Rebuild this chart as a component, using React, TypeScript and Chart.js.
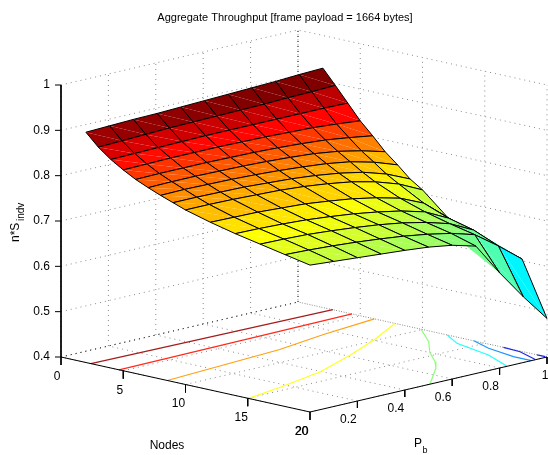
import React, { useEffect, useRef } from "react";
import { Chart, registerables } from "chart.js";

Chart.register(...registerables);

const nodesGrid = [2, 3, 4, 5, 6, 7, 8, 9, 10, 12, 14, 16, 18, 20];
const pbGrid = [0, 0.1, 0.2, 0.3, 0.4, 0.5, 0.6, 0.7, 0.8, 0.9, 1];

const throughput = [
  [0.908, 0.91, 0.912, 0.913, 0.915, 0.917, 0.919, 0.921, 0.923, 0.926, 0.928],
  [0.881, 0.883, 0.885, 0.887, 0.888, 0.889, 0.89, 0.891, 0.893, 0.894, 0.896],
  [0.86, 0.861, 0.862, 0.863, 0.864, 0.864, 0.864, 0.864, 0.864, 0.864, 0.863],
  [0.843, 0.844, 0.845, 0.845, 0.845, 0.844, 0.843, 0.841, 0.839, 0.835, 0.83],
  [0.828, 0.829, 0.829, 0.829, 0.828, 0.827, 0.825, 0.822, 0.818, 0.811, 0.803],
  [0.816, 0.817, 0.817, 0.816, 0.815, 0.813, 0.81, 0.806, 0.799, 0.788, 0.774],
  [0.805, 0.806, 0.805, 0.804, 0.802, 0.799, 0.795, 0.79, 0.782, 0.769, 0.751],
  [0.795, 0.795, 0.794, 0.793, 0.79, 0.787, 0.782, 0.775, 0.765, 0.749, 0.726],
  [0.785, 0.785, 0.784, 0.782, 0.78, 0.776, 0.77, 0.762, 0.75, 0.733, 0.708],
  [0.77, 0.769, 0.768, 0.765, 0.762, 0.756, 0.749, 0.739, 0.726, 0.703, 0.66],
  [0.757, 0.756, 0.754, 0.751, 0.746, 0.74, 0.732, 0.722, 0.708, 0.682, 0.639],
  [0.746, 0.745, 0.743, 0.739, 0.734, 0.728, 0.72, 0.709, 0.694, 0.668, 0.618],
  [0.735, 0.733, 0.73, 0.726, 0.721, 0.715, 0.707, 0.697, 0.682, 0.645, 0.604],
  [0.724, 0.72, 0.716, 0.712, 0.708, 0.703, 0.695, 0.681, 0.61, 0.545, 0.485],
];

const nodeTicks = [0, 5, 10, 15, 20];
const pbTicks = [0.2, 0.4, 0.6, 0.8, 1];
const pbGridTicks = [0, 0.2, 0.4, 0.6, 0.8, 1];
const zTicks = [0.4, 0.5, 0.6, 0.7, 0.8, 0.9, 1];

// Floor contours: [nodes, Pb] pairs
const contourDarkRed = [[2.4, 0], [2.8, 1]];
const contourRed = [[4.66, 0], [4.34, 1]];
const contourOrange = [[8.53, 0], [7.67, 0.52], [6.81, 0.75], [6.14, 1]];
const contourYellow = [[15.06, 0], [14.4, 0.169], [13.28, 0.397], [11.56, 0.614], [9.86, 0.802], [7.79, 1]];
const contourGreen = [[9.88, 1], [12.42, 0.899], [14.4, 0.8], [16.23, 0.726], [17.43, 0.666], [20, 0.506]];
const contourCyan = [[11.99, 1], [13.87, 0.942], [17.24, 0.898], [19.94, 0.833]];
const contourBlue = [[14.12, 1], [16.05, 0.961], [18.56, 0.934], [20, 0.934]];
const contourNavy1 = [[16.5, 1], [17.95, 0.994], [19.9, 0.954]];
const contourNavy2 = [[19.2, 1], [19.86, 1]];

const contours: [number[][], string][] = [
  [contourDarkRed, "#a51c1c"],
  [contourRed, "#ff2a1a"],
  [contourOrange, "#ffa010"],
  [contourYellow, "#ffff1e"],
  [contourGreen, "#8cff78"],
  [contourCyan, "#1effff"],
  [contourBlue, "#1e96ff"],
  [contourNavy1, "#1e28e6"],
  [contourNavy2, "#1e28e6"],
];

const titleText = "Aggregate Throughput [frame payload = 1664 bytes]";
const FONT = '"Liberation Sans", Arial, sans-serif';

const zMin = 0.4;
const zMax = 1;
const colorLow = 0.486;
const colorHigh = 0.92;

// Orthographic view of the MATLAB box
const view = { ox: 61, oy: 357, nx: 249 / 20, ny: 55 / 20, px: 237, py: -55, zy: -272 };
const nodeLabelShift = [-4, -3.5, -7, -6.5, -8];
const project = (n: number, pb: number, z: number, du = 0, dv = 0) => ({
  x: view.ox + n * view.nx + pb * view.px + du,
  y: view.oy + n * view.ny + pb * view.py + ((z - zMin) / (zMax - zMin)) * view.zy + dv,
});

const jet = (t: number) => {
  const c = Math.min(1, Math.max(0, t));
  const ch = (o: number) => Math.round(255 * Math.min(1, Math.max(0, 1.5 - Math.abs(4 * c - o))));
  return `rgb(${ch(3)},${ch(2)},${ch(1)})`;
};

const lineDs = (data: any[], color: string, extra: any = {}) => ({
  data,
  showLine: true,
  borderColor: color,
  borderWidth: 1,
  pointRadius: 0,
  fill: false,
  tension: 0,
  ...extra,
});

function buildDatasets() {
  const back: any[] = [];
  const dots = { borderDash: [1, 4] };
  const dotColor = "#8a8a8a";
  const darkDot = "#303030";
  for (const z of zTicks) {
    back.push(lineDs([project(0, 0, z), project(0, 1, z), project(20, 1, z)], dotColor, dots));
  }
  for (const n of nodeTicks) {
    back.push(lineDs([project(n, 0, zMin), project(n, 1, zMin), project(n, 1, zMax)], dotColor, dots));
  }
  for (const pb of pbGridTicks) {
    back.push(lineDs([project(20, pb, zMin), project(0, pb, zMin), project(0, pb, zMax)], dotColor, dots));
  }
  back.push(lineDs([project(0, 0, zMin), project(0, 1, zMin)], darkDot, dots));
  back.push(lineDs([project(0, 1, zMin), project(0, 1, zMax)], darkDot, dots));
  for (const [pts, color] of contours) {
    back.push(lineDs(pts.map(([n, pb]) => project(n, pb, zMin)), color, { borderWidth: 1.2 }));
  }
  // axes and tick marks
  back.push(lineDs([project(0, 0, zMax), project(0, 0, zMin), project(20, 0, zMin), project(20, 1, zMin)], "#000"));
  for (const z of zTicks) back.push(lineDs([project(0, 0, z), project(0, 0, z, -6)], "#000"));
  for (const n of nodeTicks) back.push(lineDs([project(n, 0, zMin), project(n, 0, zMin, 0, 8)], "#000"));
  for (const pb of pbTicks) back.push(lineDs([project(20, pb, zMin), project(20, pb, zMin, 0, 7)], "#000"));

  // surface, far cells first
  for (let i = 0; i < nodesGrid.length - 1; i++) {
    for (let j = pbGrid.length - 2; j >= 0; j--) {
      const a = project(nodesGrid[i], pbGrid[j], throughput[i][j]);
      const b = project(nodesGrid[i + 1], pbGrid[j], throughput[i + 1][j]);
      const c = project(nodesGrid[i + 1], pbGrid[j + 1], throughput[i + 1][j + 1]);
      const d = project(nodesGrid[i], pbGrid[j + 1], throughput[i][j + 1]);
      const color = jet((throughput[i][j] - colorLow) / (colorHigh - colorLow));
      back.push(lineDs([a, b, c, a], "transparent", { fill: "shape", backgroundColor: color, borderWidth: 0 }));
      back.push(lineDs([a, c, d, a], "transparent", { fill: "shape", backgroundColor: color, borderWidth: 0 }));
      back.push(lineDs([a, b, c, d, a], "#000", { borderWidth: 1 }));
    }
  }
  return back.reverse();
}

const textPlugin = {
  id: "boxText",
  afterDraw(chart: any) {
    const { ctx, scales } = chart;
    const put = (t: string, u: number, v: number, size = 12, align: CanvasTextAlign = "center") => {
      ctx.font = `${size}px ${FONT}`;
      ctx.textAlign = align;
      ctx.textBaseline = "middle";
      ctx.fillText(t, scales.x.getPixelForValue(u), scales.y.getPixelForValue(v));
    };
    ctx.save();
    ctx.fillStyle = "#000";
    put(titleText, 285, 18, 11);
    for (const z of zTicks) {
      const p = project(0, 0, z, -11, 0);
      put(String(z), p.x, p.y, 12, "right");
    }
    nodeTicks.forEach((n, k) => {
      const p = project(n, 0, zMin, nodeLabelShift[k], 19.5);
      put(String(n), p.x, p.y);
    });
    const p20 = project(20, 0, zMin, nodeLabelShift[4], 19.5);
    put("20", p20.x - 0.5, p20.y);
    for (const pb of pbTicks) {
      const p = project(20, pb, zMin, pb === 1 ? -2 : -9, 19);
      put(String(pb), p.x, p.y);
    }
    put("Nodes", 167, 446);
    put("P", 418, 444);
    put("b", 425, 451, 9);
    ctx.translate(scales.x.getPixelForValue(16), scales.y.getPixelForValue(222));
    ctx.rotate(-Math.PI / 2);
    ctx.font = `12px ${FONT}`;
    ctx.textAlign = "left";
    ctx.textBaseline = "middle";
    ctx.fillText("n*S", -20, 0);
    ctx.font = `10px ${FONT}`;
    ctx.fillText("indv", 1, 5);
    ctx.restore();
  },
};

export default function App() {
  const ref = useRef<HTMLCanvasElement>(null);
  useEffect(() => {
    const chart = new Chart(ref.current as HTMLCanvasElement, {
      type: "scatter",
      data: { datasets: buildDatasets() },
      options: {
        animation: false,
        responsive: false,
        events: [],
        layout: { padding: 0 },
        scales: {
          x: { type: "linear", display: false, min: 0, max: 548 },
          y: { type: "linear", display: false, min: 0, max: 455, reverse: true },
        },
        plugins: { legend: { display: false }, tooltip: { enabled: false }, title: { display: false } },
      },
      plugins: [textPlugin],
    } as any);
    return () => chart.destroy();
  }, []);
  return (
    <div style={{ position: "absolute", left: 0, top: 0, width: 548, height: 455, background: "#fff" }}>
      <canvas ref={ref} width={548} height={455} style={{ display: "block" }} />
    </div>
  );
}
